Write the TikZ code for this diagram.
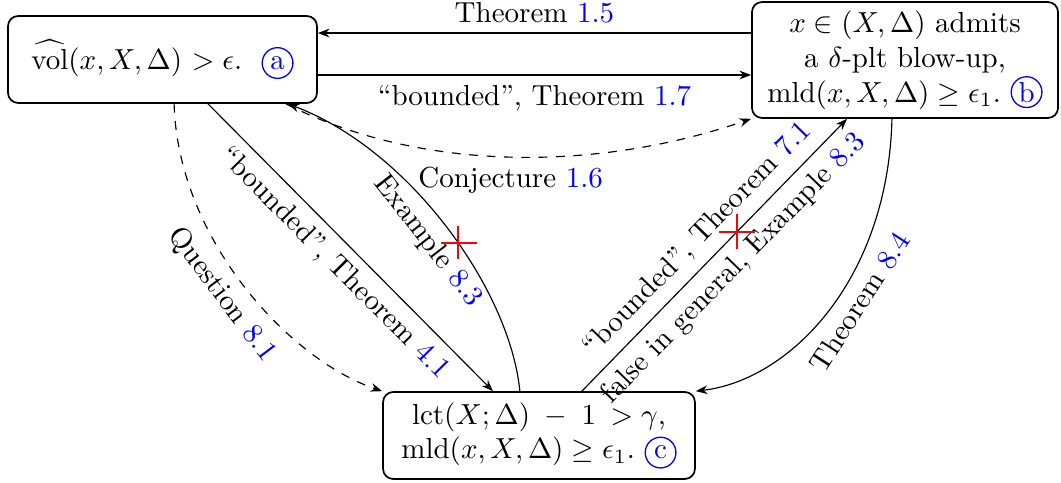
\documentclass[tikz,border=0pt]{standalone}
\usetikzlibrary{arrows.meta,calc}
\newcommand\circmark[1]{\tikz[baseline=(cm.base)]\node[circle,draw=blue,text=blue,inner sep=0.5pt,minimum size=10.6pt,line width=0.45pt](cm){#1};}
\newcommand\bl[1]{\textcolor{blue}{#1}}
\begin{document}
\begin{tikzpicture}[x=0.345pt,y=-0.345pt,
  box/.style={draw,semithick,rounded corners=3.5pt,align=center,inner sep=2pt},
  arr/.style={-{Stealth[length=4pt,width=3pt]}},
  xmark/.style={red,semithick}]
\useasboundingbox (0,0) rectangle (1061,483);
\node[box,minimum width=106.6pt,minimum height=30pt] (a) at (162.5,59.5)
  {$\widehat{\mathrm{vol}}(x,X,\Delta)$ $>\epsilon$.\ \ \circmark{a}};
\node[box,minimum width=105.6pt,minimum height=40pt] (b) at (905,60)
  {$x\in(X,\Delta)$ admits\\ a $\delta$-plt blow-up,\\ $\mathrm{mld}(x,X,\Delta)\geq\epsilon_1$.\ \circmark{b}};
\node[box,minimum width=107.6pt,minimum height=30pt] (c) at (539,435.5)
  {$\mathrm{lct}(X;\Delta)$\enspace$-$\enspace$1$\enspace$>\gamma$,\\ $\mathrm{mld}(x,X,\Delta)\geq\epsilon_1$.\ \circmark{c}};

\draw[arr] ([yshift=9.3pt]b.west) -- ([yshift=9.3pt]b.west -| a.east)
  node[midway,above] {Theorem \bl{1.5}};
\draw[arr] ([yshift=-5.35pt]a.east) -- ([yshift=-5.35pt]a.east -| b.west)
  node[midway,below] {``bounded'', Theorem \bl{1.7}};
\draw[arr,dashed] ([xshift=-11pt]a.south east) .. controls (420,172) and (596,172) .. (b.south west)
  node[midway,below] {Conjecture \bl{1.6}};
\draw[arr] ([xshift=15.7pt]a.south) -- ([xshift=-15.9pt]c.north)
  node[midway,below,sloped] {``bounded'', Theorem \bl{4.1}};
\draw[arr,dashed] ([xshift=4pt]a.south) .. controls (178,240) and (290,360) .. (c.north west)
  node[pos=0.48,below,sloped] {Question \bl{8.1}};
\draw[arr] ([xshift=-6.6pt]c.north) .. controls (510,290) and (410,150) .. ([xshift=-10.35pt]a.south east)
  node[pos=0.5,below,sloped] {Example \bl{8.3}} coordinate[pos=0.45] (x1);
\draw[arr] ([xshift=14.8pt]c.north) -- ([xshift=-20pt]b.south)
  node[midway,above,sloped] {``bounded'', Theorem \bl{7.1}}
  node[pos=0.51,below,sloped] {false in general, Example \bl{8.3}}
  coordinate[pos=0.585] (x2);
\draw[arr] ([xshift=-4.5pt]b.south) .. controls (888,280) and (790,380) .. (c.north east)
  node[pos=0.43,below,sloped] {Theorem \bl{8.4}};

\draw[xmark] ($(x1)+(-17,0)$) -- ($(x1)+(19,0)$) ($(x1)+(0,-17)$) -- ($(x1)+(0,16)$);
\draw[xmark] ($(x2)+(-18,0)$) -- ($(x2)+(18,0)$) ($(x2)+(0,-18)$) -- ($(x2)+(0,17)$);
\end{tikzpicture}
\end{document}
